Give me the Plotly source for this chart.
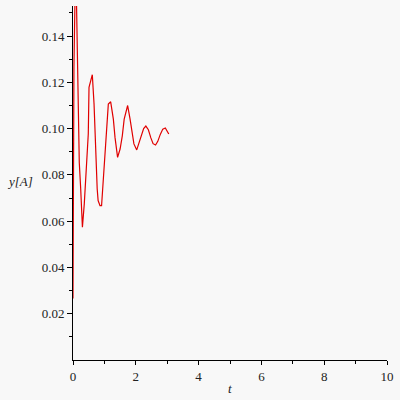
import plotly.graph_objects as go

t_vals = [0.0, 0.03, 0.085, 0.12, 0.15, 0.17, 0.20, 0.245, 0.275, 0.30, 0.36, 0.39, 0.435,
          0.487, 0.51, 0.56, 0.615, 0.67, 0.72, 0.77, 0.80, 0.86, 0.91, 0.965, 1.02, 1.073,
          1.125, 1.20, 1.285, 1.338, 1.39, 1.42, 1.50, 1.57, 1.63, 1.74, 1.815, 1.87, 1.94,
          2.03, 2.10, 2.18, 2.25, 2.32, 2.40, 2.48, 2.55, 2.63, 2.70, 2.78, 2.86, 2.94, 3.0, 3.05]
y_vals = [0.0266, 0.127, 0.175, 0.142, 0.122, 0.103, 0.0854, 0.074, 0.0617, 0.0574, 0.0676,
          0.0746, 0.0848, 0.0978, 0.1178, 0.120, 0.1233, 0.1107, 0.0892, 0.074, 0.0689, 0.0667,
          0.0667, 0.0775, 0.0876, 0.1005, 0.1106, 0.1116, 0.1041, 0.0962, 0.0905, 0.0876,
          0.0912, 0.0969, 0.1041, 0.110, 0.1043, 0.0991, 0.0934, 0.0908, 0.0935, 0.0975, 0.100,
          0.1011, 0.0995, 0.096, 0.0935, 0.0929, 0.0945, 0.0975, 0.0998, 0.1003, 0.0988, 0.0977]

x_ticks = [0, 2, 4, 6, 8, 10]
y_ticks = [0.02, 0.04, 0.06, 0.08, 0.10, 0.12, 0.14]
y_tick_text = ["0.02", "0.04", "0.06", "0.08", "0.10", "0.12", "0.14"]

fig = go.Figure()
fig.add_trace(go.Scatter(x=t_vals, y=y_vals, mode="lines",
                         line=dict(color="#e00000", width=1.2), showlegend=False))

font = dict(family="'Liberation Serif', 'Times New Roman', Times, serif", size=13, color="#222")
fig.update_layout(
    width=400, height=400,
    margin=dict(l=73, r=13, t=6, b=40),
    paper_bgcolor="#f8f8f8", plot_bgcolor="#f8f8f8",
    font=font,
    xaxis=dict(range=[0, 10], tickvals=x_ticks, ticktext=[str(v) for v in x_ticks],
               showgrid=False, zeroline=False, showline=True, linecolor="black", linewidth=1,
               ticks="outside", ticklen=4, tickcolor="black", automargin=False,
               tickfont=font,
               minor=dict(tickvals=[1, 3, 5, 7, 9], ticks="outside", ticklen=3, tickcolor="black")),
    yaxis=dict(range=[0, 0.153], tickvals=y_ticks, ticktext=y_tick_text,
               showgrid=False, zeroline=False, showline=True, linecolor="black", linewidth=1,
               ticks="outside", ticklen=5, tickcolor="black", automargin=False,
               tickfont=font,
               minor=dict(tickvals=[0.01, 0.03, 0.05, 0.07, 0.09, 0.11, 0.13, 0.15],
                          ticks="outside", ticklen=3, tickcolor="black")),
    annotations=[
        dict(text="<i>y[A]</i>", xref="paper", yref="paper", x=-0.17, y=0.505,
             xanchor="center", yanchor="middle", showarrow=False, font=font),
        dict(text="<i>t</i>", xref="paper", yref="paper", x=0.5, y=-0.08,
             xanchor="center", yanchor="middle", showarrow=False, font=font),
    ],
)
fig.write_html("out.html", config={"displayModeBar": False},
               post_script="document.body.style.margin='0';document.body.style.background='#f8f8f8';")
